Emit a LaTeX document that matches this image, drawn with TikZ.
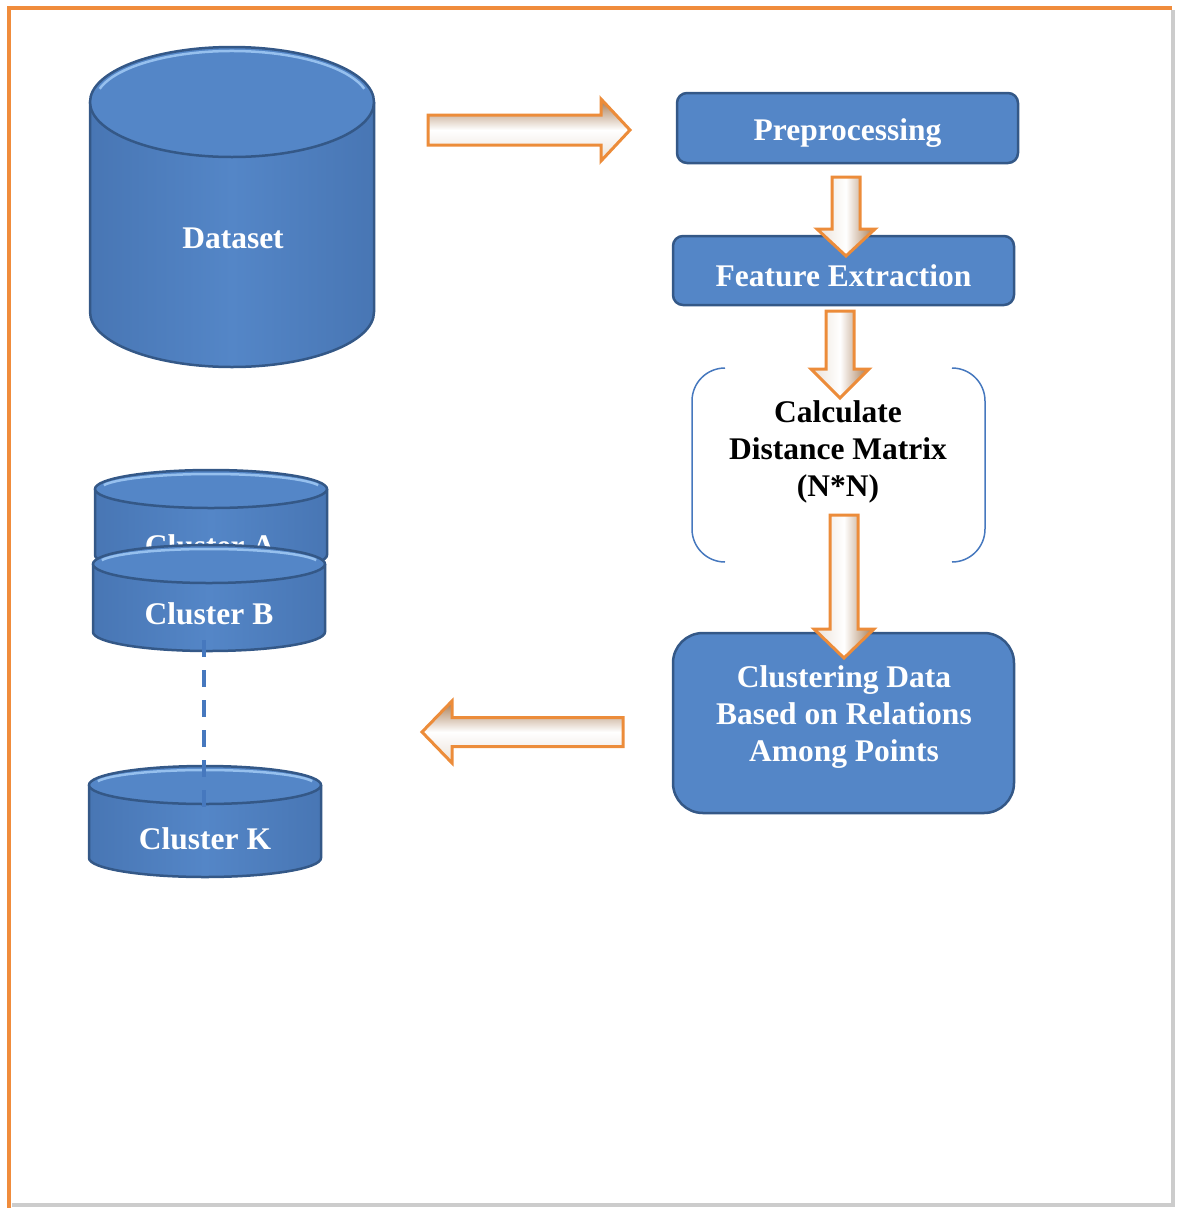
\documentclass[tikz,border=0pt]{standalone}
\usepackage{fontspec}
\setmainfont{Liberation Serif}
\begin{document}
\begin{tikzpicture}[x=1pt,y=-1pt,
  lbl/.style={text=white,font=\bfseries\fontsize{31.5pt}{37pt}\selectfont,align=center,inner sep=0pt},
  blk/.style={text=black,font=\bfseries\fontsize{31.5pt}{37pt}\selectfont,align=center,inner sep=0pt},
  boxst/.style={fill=blueF,draw=blueD,line width=2.5pt},
  cylbody/.style={left color=blueS,right color=blueS,middle color=blueF},
  cyledge/.style={draw=blueD,line width=2.5pt},
  arrV/.style={draw=arrOr,line width=3pt,line join=miter,left color=arrL,right color=arrBr,middle color=white},
  arrH/.style={draw=arrOr,line width=3pt,line join=miter,top color=arrBr,bottom color=arrL,middle color=white},
  brk/.style={draw=brkBlue,line width=1.5pt},
  dash line/.style={draw=brkBlue,line width=3.5pt,dash pattern=on 17pt off 13pt}]
\definecolor{blueF}{RGB}{84,134,199}
\definecolor{blueS}{RGB}{72,118,180}
\definecolor{blueD}{RGB}{52,88,135}
\definecolor{blueH}{RGB}{150,192,238}
\definecolor{arrOr}{RGB}{236,140,58}
\definecolor{arrBr}{RGB}{165,120,80}
\definecolor{arrL}{RGB}{235,225,215}
\definecolor{frameOr}{RGB}{240,140,60}
\definecolor{brkBlue}{RGB}{70,120,190}
\useasboundingbox (0,0) rectangle (1176,1208);
% frame
\draw[gray!40,line width=4pt] (1173,10) -- (1173,1205) -- (12,1205);
\draw[frameOr,line width=4pt] (9,1208) -- (9,8) -- (1172,8);
% cylinder macro: cx, ytop, ybot, rx, ry
\newcommand{\mycyl}[5]{%
  \path[cylbody] ({#1-#4},#2) -- ({#1-#4},#3) arc[start angle=180,end angle=360,x radius=#4pt,y radius=#5pt] -- ({#1+#4},#2) -- cycle;
  \draw[cyledge] ({#1-#4},#2) -- ({#1-#4},#3) arc[start angle=180,end angle=360,x radius=#4pt,y radius=#5pt] -- ({#1+#4},#2);
  \filldraw[fill=blueF,cyledge] (#1,#2) ellipse [x radius=#4pt,y radius=#5pt];
  \draw[blueH,line width=2.5pt] (#1,#2) ++(165:{#4pt-5pt} and {#5pt-4pt}) arc[start angle=165,end angle=15,x radius={#4pt-5pt},y radius={#5pt-4pt}];
}
% Dataset
\mycyl{232}{102}{312}{142}{55}
\node[lbl] (dataset) at (233,238) {Dataset};
% Clusters
\mycyl{211}{489}{555}{116}{19}
\node[lbl] (clA) at (210,546) {Cluster A};
\mycyl{209}{564}{632}{116}{19}
\node[lbl] (clB) at (209,614) {Cluster B};
\mycyl{205}{785}{858}{116}{19}
\node[lbl] (clK) at (205,839) {Cluster K};
\coordinate (bTop) at (204,640);
\coordinate (kMid) at (204,815);
\draw[dash line] (bTop) -- (kMid);
% boxes
\node[boxst,rounded corners=10pt,minimum width=341pt,minimum height=70pt] (pre) at (847.5,128) {};
\node[lbl] at (pre.center) [yshift=-5pt] {Preprocessing};
\node[boxst,rounded corners=10pt,minimum width=341pt,minimum height=69pt] (feat) at (843.5,270.5) {};
\node[lbl] at (feat.center) [yshift=-5pt] {Feature Extraction};
\node[boxst,rounded corners=30pt,minimum width=341pt,minimum height=180pt] (clus) at (843.5,723) {};
\node[lbl] at (844,717) {Clustering Data\\Based on Relations\\Among Points};
% brackets
\node[blk] (calc) at (838,452) {Calculate\\Distance Matrix\\(N*N)};
\draw[brk] (725,368) arc[start angle=90,end angle=180,radius=33pt] -- (692,529) arc[start angle=180,end angle=270,radius=33pt];
\draw[brk] (952,368) arc[start angle=90,end angle=0,radius=33pt] -- (985,529) arc[start angle=0,end angle=-90,radius=33pt];
% block arrows
\newcommand{\vblk}[6]{% cx, ytail, yhead, ytip, shafthalf, headhalf
  \path[arrV] ({#1-#5},#2) -- ({#1+#5},#2) -- ({#1+#5},#3) -- ({#1+#6},#3) -- (#1,#4) -- ({#1-#6},#3) -- ({#1-#5},#3) -- cycle;}
\newcommand{\hblk}[6]{% cy, xtail, xhead, xtip, shafthalf, headhalf
  \path[arrH] (#2,{#1-#5}) -- (#3,{#1-#5}) -- (#3,{#1-#6}) -- (#4,#1) -- (#3,{#1+#6}) -- (#3,{#1+#5}) -- (#2,{#1+#5}) -- cycle;}
\hblk{130}{428}{601}{630}{15}{31}
\vblk{846}{177}{229}{256}{14}{29}
\vblk{840}{311}{369}{398}{14}{29}
\vblk{844}{515}{629}{658}{14}{30}
\hblk{732}{623}{452}{422}{14.5}{31}
\end{tikzpicture}
\end{document}
